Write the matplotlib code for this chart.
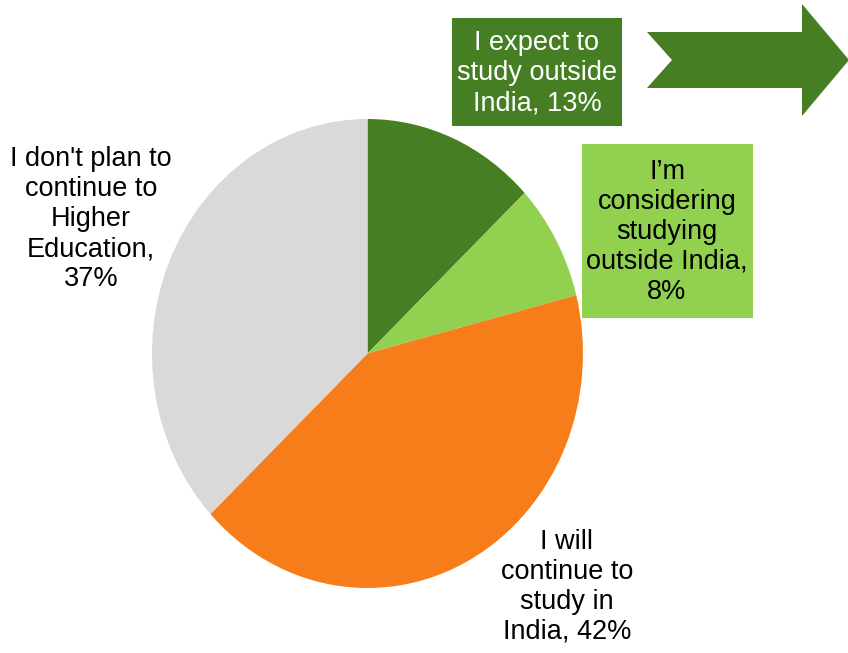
import matplotlib
matplotlib.use("Agg")
import matplotlib.pyplot as plt
from matplotlib.patches import Rectangle, Polygon

categories = ["I expect to\nstudy outside\nIndia, 13%",
              "I\u2019m\nconsidering\nstudying\noutside India,\n8%",
              "I will\ncontinue to\nstudy in\nIndia, 42%",
              "I don't plan to\ncontinue to\nHigher\nEducation,\n37%"]
values = [13, 8, 42, 37]
colors = ["#467F23", "#92D050", "#F67D19", "#D9D9D9"]

W, H = 848, 653
fig = plt.figure(figsize=(W / 100, H / 100), dpi=100)

# pie axes (elliptical, as in reference)
ax = fig.add_axes([152 / W, 1 - 588 / H, 431 / W, 469 / H])
ax.pie(values, colors=colors, startangle=90, counterclock=False,
       wedgeprops=dict(linewidth=0))
ax.set_aspect("auto")
ax.set_xlim(-1, 1)
ax.set_ylim(-1, 1)
ax.axis("off")

# overlay axes in pixel coords
ov = fig.add_axes([0, 0, 1, 1])
ov.set_xlim(0, W)
ov.set_ylim(H, 0)
ov.axis("off")

font = ["Liberation Sans", "DejaVu Sans"]
fs = 19.5
ls = 1.2

# arrow
ov.add_patch(Polygon([(647, 32), (802, 32), (802, 4), (849, 60), (802, 116),
                      (802, 88), (647, 88), (672, 60)],
                     closed=True, facecolor=colors[0], edgecolor="none"))

# boxes
ov.add_patch(Rectangle((452, 18), 170, 108, facecolor=colors[0], edgecolor="none"))
ov.add_patch(Rectangle((582, 144), 171, 174, facecolor=colors[1], edgecolor="none"))

ov.text(537, 73, categories[0], ha="center", va="center", color="white",
        fontsize=fs, family=font, linespacing=ls)
ov.text(667, 232, categories[1], ha="center", va="center", color="black",
        fontsize=fs, family=font, linespacing=ls)
ov.text(567, 587, categories[2], ha="center", va="center", color="black",
        fontsize=fs, family=font, linespacing=ls)
ov.text(91, 219, categories[3], ha="center", va="center", color="black",
        fontsize=fs, family=font, linespacing=ls)

fig.savefig("out.png", dpi=100)
